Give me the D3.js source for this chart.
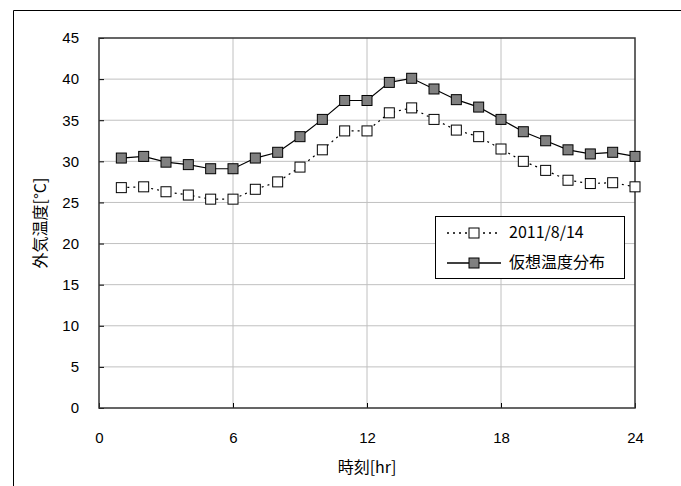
<!DOCTYPE html>
<html>
<head>
<meta charset="utf-8">
<script src="https://cdn.jsdelivr.net/npm/d3@7"></script>
<style>
  body { margin: 0; background: #fff; }
  text { font-family: Arial, "Liberation Sans", sans-serif; }
  .jp { font-family: "Noto Sans CJK JP", sans-serif; }
</style>
</head>
<body>
<div id="chart"></div>
<script>
// hourly outdoor temperature
var hours = [1, 2, 3, 4, 5, 6, 7, 8, 9, 10, 11, 12, 13, 14, 15, 16, 17, 18, 19, 20, 21, 22, 23, 24];
var measured = [26.8, 26.9, 26.3, 25.9, 25.4, 25.4, 26.6, 27.5, 29.3, 31.4, 33.7, 33.7,
                35.9, 36.5, 35.1, 33.8, 33.0, 31.5, 30.0, 28.9, 27.7, 27.3, 27.4, 26.9];
var assumed = [30.4, 30.6, 29.9, 29.6, 29.1, 29.1, 30.4, 31.1, 33.0, 35.1, 37.4, 37.4,
               39.6, 40.1, 38.8, 37.5, 36.6, 35.1, 33.6, 32.5, 31.4, 30.9, 31.1, 30.6];
var seriesNames = ['2011/8/14', '仮想温度分布'];
var xTicks = [0, 6, 12, 18, 24];
var yTicks = [0, 5, 10, 15, 20, 25, 30, 35, 40, 45];

var W = 681, H = 486;
var plotL = 99, plotR = 635, plotT = 38, plotB = 408;

var svg = d3.select('#chart').append('svg').attr('width', W).attr('height', H);

// outer frame (runs off the right and bottom)
svg.append('path')
    .attr('d', 'M13.5,' + H + 'V10.5H' + W)
    .attr('fill', 'none').attr('stroke', '#000').attr('stroke-width', 1);

var x = d3.scaleLinear().domain([0, 24]).range([plotL, plotR]);
var y = d3.scaleLinear().domain([0, 45]).range([plotB, plotT]);

// grid
svg.append('g').selectAll('line')
    .data(xTicks.slice(1, -1))
    .enter().append('line')
    .attr('x1', function(d) { return x(d); }).attr('x2', function(d) { return x(d); })
    .attr('y1', plotT).attr('y2', plotB)
    .attr('stroke', '#c0c0c0').attr('stroke-width', 1);
svg.append('g').selectAll('line')
    .data(yTicks.slice(1, -1))
    .enter().append('line')
    .attr('x1', plotL).attr('x2', plotR)
    .attr('y1', function(d) { return y(d); }).attr('y2', function(d) { return y(d); })
    .attr('stroke', '#c0c0c0').attr('stroke-width', 1);

// axes
var yAxis = d3.axisLeft(y).tickValues(yTicks).tickSize(-5).tickPadding(24);
var gy = svg.append('g').attr('transform', 'translate(' + plotL + ',0)').call(yAxis);
var xAxis = d3.axisBottom(x).tickValues(xTicks).tickSize(-5).tickPadding(24);
var gx = svg.append('g').attr('transform', 'translate(0,' + plotB + ')').call(xAxis);
[gx, gy].forEach(function(g) {
  g.select('.domain').remove();
  g.selectAll('line').attr('stroke', '#000');
  g.selectAll('text').attr('font-size', 15).attr('fill', '#000')
    .style('font-family', 'Arial, "Liberation Sans", sans-serif');
});
gy.selectAll('text').attr('text-anchor', 'end').attr('dx', 4);

// plot frame
svg.append('rect')
    .attr('x', plotL).attr('y', plotT)
    .attr('width', plotR - plotL).attr('height', plotB - plotT)
    .attr('fill', 'none').attr('stroke', '#333').attr('stroke-width', 1.5);

var line = d3.line()
    .x(function(d) { return x(d[0]); })
    .y(function(d) { return y(d[1]); });

var styles = [
  { data: measured, dash: '2,4', fill: '#fff' },
  { data: assumed, dash: null, fill: '#808080' }
];

styles.forEach(function(s) {
  var pts = hours.map(function(h, i) { return [h, s.data[i]]; });
  svg.append('path')
      .datum(pts)
      .attr('d', line)
      .attr('fill', 'none')
      .attr('stroke', '#000')
      .attr('stroke-width', 1.2)
      .attr('stroke-dasharray', s.dash);
  svg.append('g').selectAll('rect')
      .data(pts)
      .enter().append('rect')
      .attr('x', function(d) { return x(d[0]) - 5; })
      .attr('y', function(d) { return y(d[1]) - 5; })
      .attr('width', 10).attr('height', 10)
      .attr('fill', s.fill)
      .attr('stroke', '#000').attr('stroke-width', 1);
});

// legend
var lg = svg.append('g');
lg.append('rect')
    .attr('x', 435.5).attr('y', 216.5).attr('width', 189).attr('height', 62)
    .attr('fill', '#fff').attr('stroke', '#000').attr('stroke-width', 1);
styles.forEach(function(s, i) {
  var ly = 233 + i * 30;
  lg.append('line')
      .attr('x1', 447).attr('x2', 501).attr('y1', ly).attr('y2', ly)
      .attr('stroke', '#000').attr('stroke-width', 1.5)
      .attr('stroke-dasharray', s.dash);
  lg.append('rect')
      .attr('x', 469).attr('y', ly - 5).attr('width', 10).attr('height', 10)
      .attr('fill', s.fill).attr('stroke', '#000');
  lg.append('text')
      .attr('class', 'jp')
      .attr('x', 509).attr('y', ly + 5)
      .attr('font-size', 16)
      .text(seriesNames[i]);
});

// axis titles
svg.append('text')
    .attr('class', 'jp')
    .attr('x', 367).attr('y', 473)
    .attr('text-anchor', 'middle')
    .attr('font-size', 16)
    .text('時刻[hr]');
svg.append('text')
    .attr('class', 'jp')
    .attr('transform', 'translate(46,223) rotate(-90)')
    .attr('text-anchor', 'middle')
    .attr('font-size', 16)
    .text('外気温度[°C]');
</script>
</body>
</html>
